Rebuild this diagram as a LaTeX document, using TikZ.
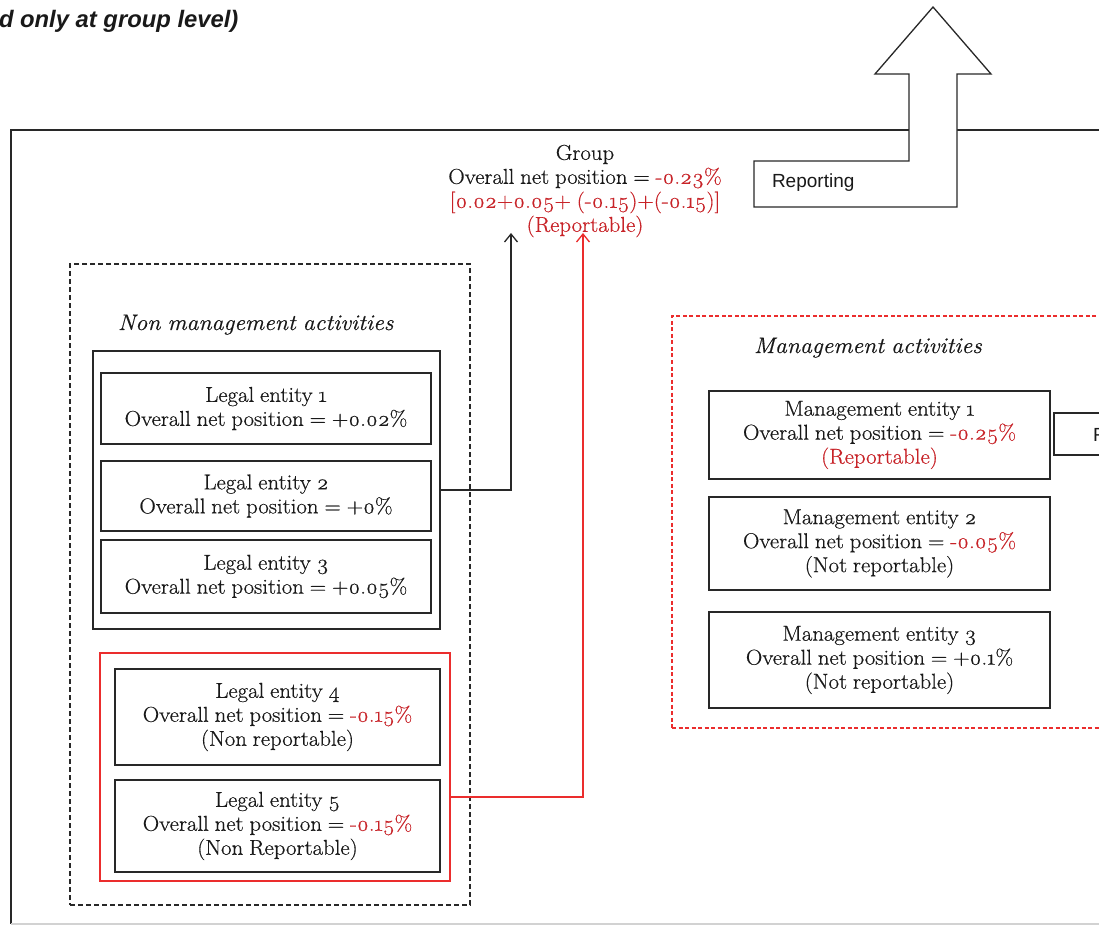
\documentclass[tikz,border=0pt]{standalone}
\usepackage{fontspec}
\setmainfont{Latin Modern Roman}[Numbers=OldStyle, FakeStretch=1.06, FakeBold=0.5, WordSpace=0.85]
\newfontfamily\arialfont{Liberation Sans}
\usetikzlibrary{arrows.meta}
\definecolor{reptxt}{RGB}{200,35,40}
\definecolor{repline}{RGB}{235,45,45}
\definecolor{ink}{RGB}{40,40,40}
\definecolor{txt}{RGB}{25,25,25}
\begin{document}
\begin{tikzpicture}[x=1pt,y=-1pt,
  every node/.style={inner sep=0pt, outer sep=0pt},
  serif/.style={font=\fontsize{21.5}{24}\selectfont, text=txt},
  entity/.style={serif, draw=ink, line width=1.4pt, align=center},
  frame/.style={draw=ink, line width=1.3pt},
  blackdash/.style={draw=ink, line width=1.2pt, dash pattern=on 5pt off 3pt},
  reddash/.style={draw=repline, line width=1.1pt, dash pattern=on 4pt off 2.5pt},
  redframe/.style={draw=repline, line width=1.4pt},
  conn/.style={line width=1.3pt, -{Straight Barb[length=8pt,width=13pt]}},
  sanslabel/.style={font=\arialfont\fontsize{19}{22}\selectfont, text=txt},
  head/.style={font=\arialfont\bfseries\itshape\fontsize{23.8}{26}\selectfont, text=txt},
  groupitalic/.style={font=\fontsize{22.5}{24}\selectfont\itshape, text=txt}]
\useasboundingbox (0,0) rectangle (1099,925);
\clip (0,0) rectangle (1099,925);
\fill[white] (0,0) rectangle (1099,925);

% heading fragment
\node[head, anchor=base west] (title) at (-1,28) {d only at group level)};

% outer group box
\draw[frame] (1110,130) -- (11,130) -- (11,924);
\draw[gray!35, line width=1.2pt] (11,924) -- (1110,924);

% block arrow with reporting
\draw[ink, line width=1.3pt, fill=white] (933,7) -- (991,74) -- (957,74) -- (957,207)
  -- (754,207) -- (754,161) -- (909,161) -- (909,74) -- (875,74) -- cycle;
\node[sanslabel, anchor=base west] (rep) at (772,188) {Reporting};

% group text
\node[serif, align=center] (group) at (585,191) {Group\\Overall net position = \textcolor{reptxt}{-0.23\%}\\\textcolor{reptxt}{[0.02+0.05+ (-0.15)+(-0.15)]}\\\textcolor{reptxt}{(Reportable)}};

% non management activities
\node[blackdash, minimum width=400pt, minimum height=641pt] (nma) at (270,584.5) {};
\node[groupitalic, anchor=base west] (nmalabel) at (118,330) {Non management activities};
\node[frame, minimum width=347pt, minimum height=278pt] (nm) at (266.5,490) {};
\node[entity, minimum width=330pt, minimum height=71pt] (le1) at (266,408.5) {Legal entity 1\\Overall net position = +0.02\%};
\node[entity, minimum width=330pt, minimum height=70pt] (le2) at (266,496) {Legal entity 2\\Overall net position = +0\%};
\node[entity, minimum width=330pt, minimum height=73pt] (le3) at (266,576.5) {Legal entity 3\\Overall net position = +0.05\%};
\node[redframe, minimum width=350pt, minimum height=228pt] (redbox) at (275,767) {};
\node[entity, minimum width=325pt, minimum height=96pt] (le4) at (277.5,717) {Legal entity 4\\Overall net position = \textcolor{reptxt}{-0.15\%}\\(Non reportable)};
\node[entity, minimum width=325pt, minimum height=92pt] (le5) at (277.5,826) {Legal entity 5\\Overall net position = \textcolor{reptxt}{-0.15\%}\\(Non Reportable)};

% management activities
\node[reddash, minimum width=448pt, minimum height=412pt] (ma) at (896,522) {};
\node[groupitalic, anchor=base west] (malabel) at (754,353) {Management activities};
\node[entity, minimum width=341pt, minimum height=88pt] (me1) at (879.5,435) {Management entity 1\\Overall net position = \textcolor{reptxt}{-0.25\%}\\\textcolor{reptxt}{(Reportable)}};
\node[entity, minimum width=341pt, minimum height=93pt] (me2) at (879.5,543.5) {Management entity 2\\Overall net position = \textcolor{reptxt}{-0.05\%}\\(Not reportable)};
\node[entity, minimum width=341pt, minimum height=96pt] (me3) at (879.5,660) {Management entity 3\\Overall net position = +0.1\%\\(Not reportable)};
\node[frame, minimum width=66pt, minimum height=42pt] (rbox) at (1087,434) {};
\node[sanslabel, anchor=base west] (rbtext) at (1093,441) {Reporting};

% connectors
\coordinate (bt) at (511,233);
\coordinate (rt) at (583,233);
\draw[conn, ink] (nm.east) -| (bt);
\draw[conn, repline] ([yshift=-30pt]redbox.east) -| (rt);
\end{tikzpicture}
\end{document}
